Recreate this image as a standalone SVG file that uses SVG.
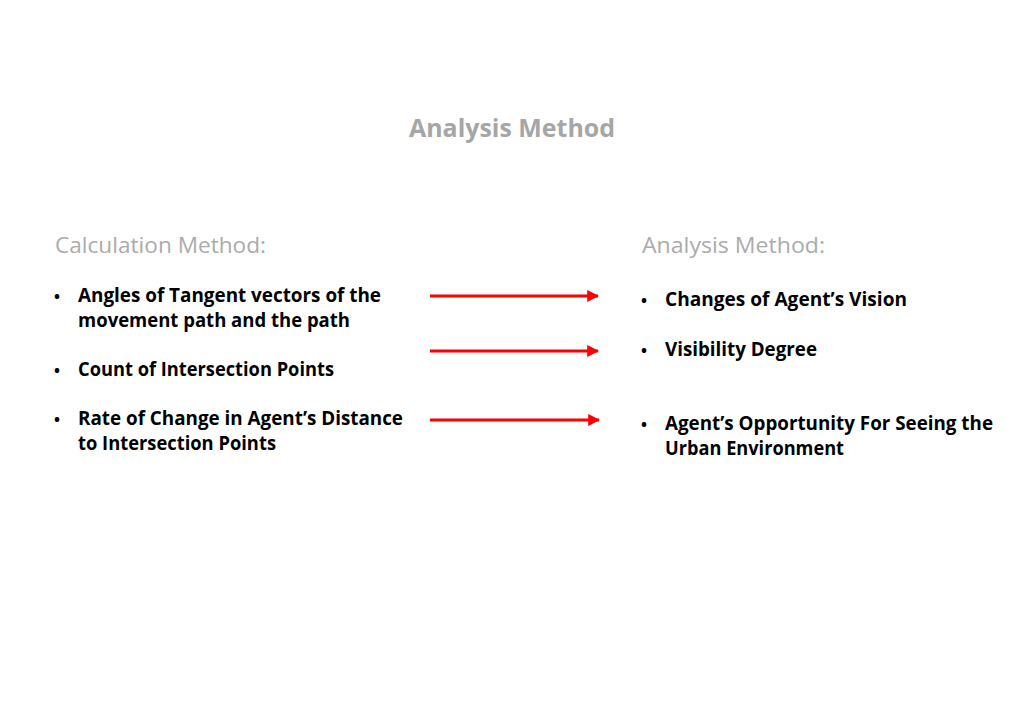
<svg xmlns="http://www.w3.org/2000/svg" width="1024" height="724" viewBox="0 0 1024 724">
<defs>
<style>
.title{font-family:"Open Sans","Noto Sans",sans-serif;font-weight:700;font-size:25px;fill:#a6a6a6}
.head{font-family:"Open Sans","Noto Sans",sans-serif;font-weight:400;font-size:22px;fill:#ababab}
.item{font-family:"Open Sans","Noto Sans",sans-serif;font-weight:700;font-size:19px;fill:#000}
.bul{font-family:"Open Sans","Noto Sans",sans-serif;font-weight:700;font-size:16px;fill:#000}
.conn{stroke:#ff0000;stroke-width:3;fill:none}
</style>
<marker id="ah" viewBox="0 0 10 10" refX="9" refY="5" markerWidth="4" markerHeight="4" orient="auto" markerUnits="strokeWidth">
<path d="M0,0 L10,5 L0,10 z" fill="#ff0000"/>
</marker>
</defs>
<rect width="1024" height="724" fill="#fff"/>
<text class="title" x="512" y="137" text-anchor="middle" textLength="206" lengthAdjust="spacingAndGlyphs">Analysis Method</text>
<g id="left">
<text class="head" x="55" y="253" textLength="211" lengthAdjust="spacingAndGlyphs">Calculation Method:</text>
<g id="l1"><text class="bul" x="54" y="302">•</text><text class="item" x="78" y="302" textLength="303" lengthAdjust="spacingAndGlyphs">Angles of Tangent vectors of the</text><text class="item" x="78" y="327" textLength="272" lengthAdjust="spacingAndGlyphs">movement path and the path</text></g>
<g id="l2"><text class="bul" x="54" y="376">•</text><text class="item" x="78" y="376" textLength="256" lengthAdjust="spacingAndGlyphs">Count of Intersection Points</text></g>
<g id="l3"><text class="bul" x="54" y="425">•</text><text class="item" x="78" y="425" textLength="325" lengthAdjust="spacingAndGlyphs">Rate of Change in Agent’s Distance</text><text class="item" x="78" y="450" textLength="198" lengthAdjust="spacingAndGlyphs">to Intersection Points</text></g>
</g>
<g id="right">
<text class="head" x="642" y="253" textLength="183" lengthAdjust="spacingAndGlyphs">Analysis Method:</text>
<g id="r1"><text class="bul" x="641" y="306">•</text><text class="item" x="665" y="306" textLength="242" lengthAdjust="spacingAndGlyphs">Changes of Agent’s Vision</text></g>
<g id="r2"><text class="bul" x="641" y="356">•</text><text class="item" x="665" y="356" textLength="152" lengthAdjust="spacingAndGlyphs">Visibility Degree</text></g>
<g id="r3"><text class="bul" x="641" y="430">•</text><text class="item" x="665" y="430" textLength="328" lengthAdjust="spacingAndGlyphs">Agent’s Opportunity For Seeing the</text><text class="item" x="665" y="455" textLength="179" lengthAdjust="spacingAndGlyphs">Urban Environment</text></g>
</g>
<g id="connectors">
<line class="conn" x1="430" y1="296" x2="598" y2="296" marker-end="url(#ah)"/>
<line class="conn" x1="430" y1="351" x2="598" y2="351" marker-end="url(#ah)"/>
<line class="conn" x1="430" y1="420" x2="599" y2="420" marker-end="url(#ah)"/>
</g>
</svg>
